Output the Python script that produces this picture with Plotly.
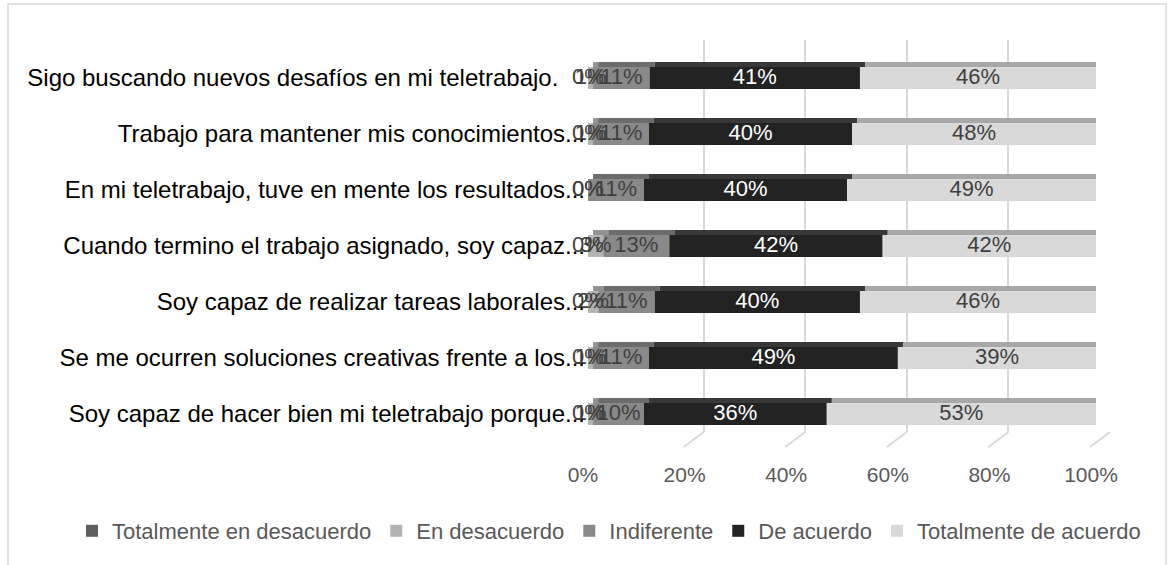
import numpy as np
import plotly.graph_objects as go

# ---------------- data ----------------
categories = [
    "Sigo buscando nuevos desafíos en mi teletrabajo.",
    "Trabajo para mantener mis conocimientos...",
    "En mi teletrabajo, tuve en mente los resultados...",
    "Cuando termino el trabajo asignado, soy capaz...",
    "Soy capaz de realizar tareas laborales...",
    "Se me ocurren soluciones creativas frente a los...",
    "Soy capaz de hacer bien mi teletrabajo porque...",
]
series_names = ["Totalmente en desacuerdo", "En desacuerdo", "Indiferente",
                "De acuerdo", "Totalmente de acuerdo"]
tot_desacuerdo = [0, 0, 0, 0, 0, 0, 0]
en_desacuerdo = [1, 1, 0, 3, 2, 1, 1]
indiferente = [11, 11, 11, 13, 11, 11, 10]
de_acuerdo = [41, 40, 40, 42, 40, 49, 36]
tot_acuerdo = [46, 48, 49, 42, 46, 39, 53]
x_ticks = [0, 20, 40, 60, 80, 100]
x_tick_labels = ["0%", "20%", "40%", "60%", "80%", "100%"]

# ---------------- style ----------------
front_colors = ["#5e5e5e", "#b3b3b3", "#898989", "#222222", "#d9d9d9"]
top_colors = ["#474747", "#929292", "#6c6c6c", "#383838", "#a8a8a8"]
text_colors = ["#404040", "#404040", "#404040", "#ffffff", "#404040"]
side_color = "#8c8c8c"
FONT = "Liberation Sans, Arial, sans-serif"
FS_CAT = 24
FS_LBL = 22
FS_TICK = 21
FS_LEG = 22
W, H = 1175, 565

def px_x(p):
    return p / W

def px_y(p):
    return 1 - p / H

values = np.array([tot_desacuerdo, en_desacuerdo, indiferente, de_acuerdo, tot_acuerdo], dtype=float)
row_sum = values.sum(axis=0)
norm = values / row_sum * 100.0          # 100% stacked
starts = np.vstack([np.zeros(len(categories)), np.cumsum(norm, axis=0)[:-1]])

FRONT_W = 0.39
TOP_W = 0.09
fig = go.Figure()

# empty trace to establish gridline (back wall) subplot
fig.add_trace(go.Scatter(x=[], y=[], xaxis="x", yaxis="y", showlegend=False, hoverinfo="skip"))

# top faces of 3D bars
for i in range(5):
    fig.add_trace(go.Bar(
        y=categories, x=norm[i], base=starts[i] + 1.0, orientation="h",
        width=TOP_W, offset=-FRONT_W / 2 - TOP_W,
        marker=dict(color=top_colors[i], line=dict(width=0)),
        showlegend=False, hoverinfo="skip", xaxis="x2", yaxis="y2",
    ))

# side face at the end of each bar
fig.add_trace(go.Bar(
    y=categories, x=[1.3] * len(categories), base=row_sum / row_sum * 100.0, orientation="h",
    width=FRONT_W, offset=-FRONT_W / 2 - TOP_W / 2,
    marker=dict(color=side_color, line=dict(width=0)),
    showlegend=False, hoverinfo="skip", xaxis="x2", yaxis="y2",
))

# front faces
for i in range(5):
    fig.add_trace(go.Bar(
        name=series_names[i],
        y=categories, x=norm[i], base=starts[i], orientation="h",
        width=FRONT_W, offset=-FRONT_W / 2,
        marker=dict(color=front_colors[i], line=dict(width=0)),
        hovertemplate="%{y}<br>" + series_names[i] + ": %{customdata}%<extra></extra>",
        customdata=values[i].astype(int),
        xaxis="x2", yaxis="y2",
    ))

# data labels, drawn above every bar (centre of each segment)
for i in range(5):
    fig.add_trace(go.Scatter(
        y=categories, x=starts[i] + norm[i] / 2, mode="text",
        text=[f"{int(v)}%" for v in values[i]],
        textposition="middle center",
        textfont=dict(family=FONT, size=FS_LBL, color=text_colors[i]),
        showlegend=False, hoverinfo="skip", xaxis="x2", yaxis="y2", cliponaxis=False,
    ))

ticktext_y = [c + ("\u00a0" * 4 if not c.endswith("...") else "") for c in categories]

# floor lines from back gridlines to front
shapes = []
for t in x_ticks:
    shapes.append(dict(type="line", xref="x", yref="paper",
                       x0=t, y0=px_y(432), x1=t - 20 / 5.08, y1=px_y(447),
                       line=dict(color="#d9d9d9", width=2), layer="below"))
# chart frame
shapes.append(dict(type="rect", xref="paper", yref="paper",
                   x0=px_x(8), y0=px_y(575), x1=px_x(1166), y1=px_y(4),
                   line=dict(color="#d9d9d9", width=1.5), layer="below"))

fig.update_layout(
    width=W, height=H,
    margin=dict(l=0, r=0, t=0, b=0, autoexpand=False),
    paper_bgcolor="white", plot_bgcolor="rgba(0,0,0,0)",
    barmode="overlay",
    font=dict(family=FONT, size=FS_TICK, color="#595959"),
    shapes=shapes,
    xaxis=dict(domain=[px_x(602), px_x(1110)], range=[-0.01, 100.01], anchor="y",
               tickvals=x_ticks, showgrid=True, gridcolor="#d9d9d9", gridwidth=2,
               showticklabels=False, zeroline=False, showline=False, ticks="",
               automargin=False, fixedrange=True),
    yaxis=dict(domain=[px_y(432), px_y(40)], range=[0, 1], anchor="x", visible=False,
               showgrid=False, zeroline=False, automargin=False, fixedrange=True),
    xaxis2=dict(domain=[px_x(588), px_x(1096)], range=[0, 100], anchor="y2",
                tickvals=x_ticks, ticktext=x_tick_labels, showgrid=False, zeroline=False,
                showline=False, ticks="", ticklabelshift=-5, ticklabelstandoff=18,
                automargin=False,
                tickfont=dict(family=FONT, size=FS_TICK, color="#595959")),
    yaxis2=dict(domain=[px_y(442), px_y(50)], anchor="x2", type="category",
                autorange="reversed", tickvals=categories, ticktext=ticktext_y,
                showgrid=False, zeroline=False, showline=False, ticks="",
                ticklabelstandoff=2, automargin=False,
                tickfont=dict(family=FONT, size=FS_CAT, color="#000000")),
    legend=dict(orientation="h", x=px_x(609), xanchor="center", y=px_y(531), yanchor="middle",
                font=dict(family=FONT, size=FS_LEG, color="#595959"), itemwidth=30,
                traceorder="normal", bgcolor="rgba(0,0,0,0)"),
    showlegend=True,
)

fig.write_html("out.html")
